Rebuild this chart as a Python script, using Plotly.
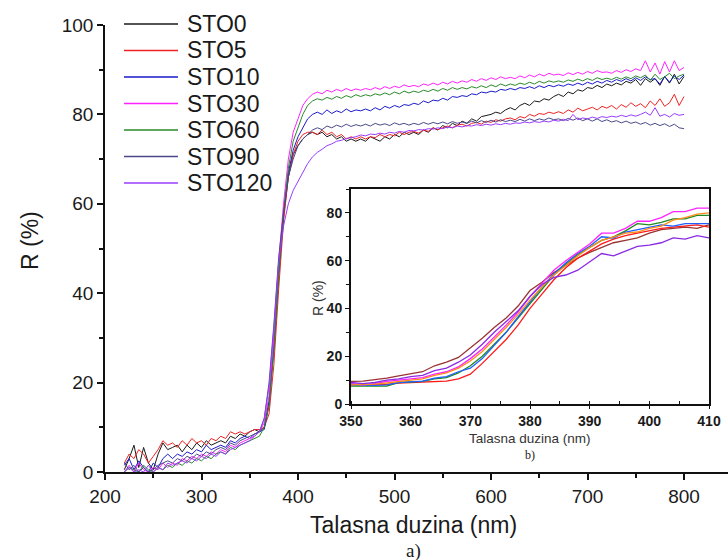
import plotly.graph_objects as go

# Wavelength grid of the full reflectance spectra (nm)
WL = list(range(220, 801, 5))

SERIES = ["STO0", "STO5", "STO10", "STO30", "STO60", "STO90", "STO120"]
COLORS = ["#1a1a1a", "#ee2222", "#1a1acc", "#ff22ff", "#2a8a2a", "#4a4a8a", "#9a3cff"]

STO0 = [0.5, 3, 6, 1, 5.5, 2, 0.5, 4, 6.5, 5,
        5.5, 6, 4.5, 6, 5, 6.5, 5.5, 7, 6, 6.5,
        7, 6.5, 8, 7.5, 8.5, 8, 9, 9.5, 9, 10,
        16, 28, 44, 57, 66, 71, 73, 74.5, 75.5, 76,
        75.5, 76, 75, 75.5, 74.5, 75, 74, 74.5, 74, 74.5,
        74, 75, 74.5, 74, 75, 74.5, 75.5, 75, 76, 75.5,
        76, 75.5, 76.5, 76, 77, 76.5, 77.5, 77, 78, 77.5,
        78.5, 78, 79, 78.5, 79.5, 79.8, 80, 80.5, 80.2, 81,
        81.5, 81, 82, 82.5, 82, 83, 82.8, 83.5, 83.2, 84,
        84.5, 84, 85, 84.6, 85.5, 85.2, 86, 85.8, 86.5, 86,
        86.8, 86.4, 87, 86.6, 87.4, 87, 87.8, 86.5, 88, 87.2,
        88, 86.5, 88.5, 87, 89, 86.8, 88.5]

STO5 = [2, 4, 3, 5, 4, 2, 3.5, 5, 7, 6,
        6.5, 5.5, 7, 6, 7.5, 6.5, 7, 6, 7.5, 7,
        8, 7.5, 9, 8.5, 9, 8.5, 9, 9.5, 9.5, 10,
        13, 24, 41, 56, 66, 71, 74, 75.5, 76, 76,
        75.5, 76.5, 75.5, 76, 75, 75.5, 74.5, 75, 74.5, 75,
        74.5, 75, 74.8, 75.5, 75, 75.5, 75.2, 76, 75.5, 76,
        76.2, 75.8, 76.5, 76.2, 77, 76.6, 77, 77.4, 77, 77.6,
        77.8, 77.4, 78, 78.2, 77.8, 78.5, 78.2, 78.8, 78.5, 79,
        79.2, 78.8, 79.5, 79.2, 80, 79.6, 80.2, 80, 80.5, 80.2,
        80.6, 80.2, 81, 80.5, 81.4, 80.8, 81.2, 81.6, 81, 81.8,
        81.4, 82, 81.2, 82.2, 81.6, 82.6, 81.8, 82.4, 81.5, 83,
        82, 83.5, 81.8, 82.6, 84.5, 82, 84]

STO10 = [1.5, 3, 0.5, 2.5, 1, 0, 2, 1, 3, 4,
         3, 4, 3.5, 4.5, 4, 5, 4.5, 6, 5, 5.5,
         6, 5.5, 7, 6.5, 7.5, 8, 7.5, 8.5, 9, 9.5,
         15, 28, 45, 58, 67, 72, 75, 77, 79, 80,
         80.5, 80, 81, 80.2, 80.8, 80.4, 81.2, 80.6, 81, 80.8,
         81.2, 80.8, 81.5, 81, 81.8, 81.4, 82, 81.6, 82.2, 82,
         82.5, 82.2, 83, 82.6, 83.2, 83, 83.6, 83.2, 84, 83.8,
         84.2, 84, 84.6, 84.4, 85, 84.8, 85.2, 85, 85.6, 85.4,
         85.8, 85.5, 86, 85.8, 86.2, 85.8, 86.4, 86, 86.5, 86.2,
         86.6, 86.3, 86.8, 86.5, 87, 86.6, 87.2, 86.8, 87.4, 87,
         87.6, 87.2, 87.8, 87.4, 88, 87.5, 88.2, 87.6, 88.4, 87.8,
         88, 86.8, 88.5, 87.2, 88.6, 87.8, 88.8]

STO30 = [0, 1.5, 0, 2, 0.5, 0, 1, 0.5, 2, 1,
         2, 1.5, 3, 2.5, 3.5, 3, 4, 3.5, 4.5, 4,
         5, 4.5, 6, 5.5, 6.5, 7, 7.5, 8, 9, 11,
         17, 30, 47, 60, 70, 76, 79, 82, 83.5, 84.5,
         85, 84.6, 85.4, 85, 85.6, 85.2, 85.8, 85.3, 85.7, 85.4,
         85.8, 85.5, 86, 85.6, 86.2, 85.8, 86.3, 86, 86.6, 86.2,
         86.5, 86.2, 86.8, 86.5, 87, 86.6, 87.2, 86.8, 87.4, 87,
         87.5, 87.2, 87.8, 87.4, 88, 87.6, 88.2, 87.8, 88.4, 88,
         88.3, 88, 88.6, 88.2, 88.8, 88.4, 89, 88.6, 89.2, 88.8,
         89, 88.7, 89.3, 88.9, 89.4, 89, 89.6, 89.2, 89.8, 89.4,
         89.5, 89.2, 89.8, 89.4, 90, 89.6, 90.2, 89.8, 92, 89.5,
         91.5, 89, 91.8, 89.5, 92, 89.8, 90.5]

STO60 = [0, 1, 0.5, 0, 1.5, 0.5, 0, 1, 0.5, 1.5,
         1, 2, 1.5, 2.5, 2, 3, 2.5, 3.5, 3, 4,
         4.5, 4, 5.5, 5, 6, 6.5, 7, 7.5, 8, 10,
         15, 27, 44, 58, 68, 74, 77, 80, 82, 83,
         83.5, 83.2, 83.8, 83.4, 84, 83.6, 84.2, 83.8, 84.4, 84,
         84.4, 84.1, 84.6, 84.3, 84.8, 84.4, 85, 84.6, 85.2, 84.8,
         85.2, 84.9, 85.4, 85.1, 85.6, 85.2, 85.8, 85.4, 86, 85.6,
         86, 85.7, 86.2, 85.9, 86.4, 86, 86.6, 86.2, 86.8, 86.4,
         86.8, 86.5, 87, 86.7, 87.2, 86.8, 87.4, 87, 87.5, 87.2,
         87.5, 87.2, 87.7, 87.4, 87.9, 87.5, 88, 87.6, 88.2, 87.8,
         88.1, 87.8, 88.3, 87.9, 88.4, 88, 88.6, 88.2, 88.8, 87.6,
         89, 87.8, 88.4, 89.2, 88, 88.6, 89]

STO90 = [2, 0.5, 1.5, 0, 1, 0, 0.5, 1.5, 2, 2.5,
         2, 3, 2.5, 3.5, 3, 4, 3.5, 4.5, 4, 5,
         5.5, 5, 6.5, 6, 7, 7.5, 8, 8.5, 9, 12,
         20, 33, 48, 58, 66, 70, 73, 74.5, 75.5, 76.5,
         77, 76.6, 77.4, 77, 77.6, 77.2, 77.8, 77.3, 77.7, 77.4,
         77.8, 77.4, 78, 77.6, 77.9, 77.5, 78.1, 77.7, 78, 77.6,
         78, 77.7, 78.2, 77.8, 78.2, 77.9, 78.3, 77.9, 78.4, 78,
         78.3, 78, 78.5, 78.1, 78.6, 78.2, 78.7, 78.3, 78.8, 78.4,
         78.7, 78.4, 78.9, 78.5, 79, 78.6, 79, 78.7, 79.2, 78.8,
         79, 78.6, 79.1, 78.7, 79.2, 78.6, 79, 78.5, 79, 78.4,
         78.8, 78.3, 78.6, 78.1, 78.5, 78, 78.3, 77.8, 78.2, 77.6,
         78, 77.5, 77.9, 77.3, 77.8, 77, 76.8]

STO120 = [0, 1, 0, 0.5, 0, 1.5, 0, 1, 0.5, 2,
          1.5, 2, 2.5, 2, 3, 2.5, 3.5, 3, 4, 3.5,
          4.5, 4, 5, 5.5, 6, 6.5, 7, 8, 9, 12,
          19, 32, 47, 55, 60, 63, 65, 67, 69, 70.5,
          71.5, 72.2, 73, 73.4, 74, 74.2, 74.6, 74.8, 75, 75.4,
          75.2, 75.6, 75.5, 75.8, 75.6, 76, 75.8, 76.2, 76, 76.4,
          76.3, 76.6, 76.5, 76.8, 76.7, 77, 76.8, 77.2, 77, 77.4,
          77.2, 77.5, 77.4, 77.7, 77.5, 77.8, 77.6, 77.9, 77.7, 78,
          77.8, 78.1, 78, 78.3, 78.1, 78.4, 78.2, 78.5, 78.3, 78.7,
          78.5, 78.9, 78.6, 80, 78.8, 79.2, 79, 79.4, 79.1, 79.5,
          79.3, 79.6, 79.4, 79.8, 79.5, 79.9, 79.6, 80, 80.5, 79.8,
          81.5, 79.6, 80, 79.4, 80.2, 79.8, 80]

MAIN = [STO0, STO5, STO10, STO30, STO60, STO90, STO120]

# Absorption-edge detail (350-410 nm)
WL_EDGE = list(range(350, 411, 2))
EDGE_COLORS = ["#993333", "#ff1a1a", "#1f8a1f", "#1f5fff", "#ff22ff", "#ff8c1a", "#8a2be2"]
EDGE_A = [9.5, 9.6, 10.2, 10.8, 11.8, 12.8, 13.5, 16, 17.5, 19.5, 23.5, 27.5, 32, 36, 41, 47.5,
          51, 55, 58, 61, 63.5, 65.5, 67.5, 68.5, 69.5, 71.5, 73, 73.5, 74, 73.5, 75]
EDGE_B = [8, 8, 8, 8.2, 8.8, 9, 9, 9.2, 9.6, 10.5, 12.5, 17, 22, 27, 33, 40,
          46, 52, 57, 61, 64, 67, 69, 70.5, 71.5, 72.5, 73.5, 74, 74.5, 75, 74]
EDGE_C = [7.5, 7.5, 7.5, 7.5, 9, 9.2, 9.5, 10.5, 11, 13, 16, 20, 25, 30, 36, 42,
          48, 54, 58.5, 62.5, 65.5, 68.5, 70, 72.5, 75.5, 75, 76, 77.5, 77.5, 79, 79]
EDGE_D = [8, 7.8, 7.8, 8, 9, 9.3, 9.6, 10.8, 11.5, 13.5, 15, 19, 24.5, 30, 36.5, 43,
          49, 54.5, 59, 63, 66, 70, 69.5, 72, 73, 74, 75, 74.5, 75.5, 75.5, 75.5]
EDGE_E = [8.5, 8, 8.5, 9.5, 10, 10.5, 11, 12.5, 13.5, 15.5, 19, 23, 28, 33, 38.5, 45,
          50.5, 56, 60, 63.5, 67, 71.5, 71.5, 73.5, 76.5, 76.5, 78, 80.5, 80.5, 82, 82]
EDGE_F = [8, 8, 8.3, 8.8, 9.5, 10, 10.5, 12, 13, 15, 18, 22, 27, 32, 37.5, 43.5,
          49, 54, 58, 62, 65.5, 68.5, 70, 71.5, 72, 73.5, 74.5, 77, 78, 79.5, 80]
EDGE_G = [9, 8.5, 9, 10, 10.5, 11.5, 12, 14, 15, 17.5, 20.5, 25, 30, 34.5, 39, 45,
          50, 53, 54, 56, 59.5, 63, 62, 64, 66, 66.5, 67.5, 69.5, 69, 70.5, 69.5]
EDGE = [EDGE_A, EDGE_B, EDGE_C, EDGE_D, EDGE_E, EDGE_F, EDGE_G]

for s in MAIN:
    assert len(s) == len(WL)
for s in EDGE:
    assert len(s) == len(WL_EDGE)

FONT = "Liberation Sans, Arial, sans-serif"
SERIF = "Liberation Serif, Times New Roman, serif"

W, H = 728, 560
L, R, T, B = 105, 0, 25, 88
PW, PH = W - L - R, H - T - B


def px(x):
    # pixel column -> paper x
    return (x - L) / PW


def py(y):
    # pixel row -> paper y
    return (H - B - y) / PH


fig = go.Figure()

for name, color, vals in zip(SERIES, COLORS, MAIN):
    fig.add_trace(go.Scatter(x=WL, y=vals, mode="lines", name=name,
                             line=dict(color=color, width=1),
                             xaxis="x", yaxis="y"))

for color, vals in zip(EDGE_COLORS, EDGE):
    fig.add_trace(go.Scatter(x=WL_EDGE, y=vals, mode="lines", showlegend=False,
                             line=dict(color=color, width=1.3),
                             xaxis="x2", yaxis="y2"))

fig.update_layout(
    width=W, height=H, autosize=False,
    margin=dict(l=L, r=R, t=T, b=B, autoexpand=False),
    paper_bgcolor="white", plot_bgcolor="white",
    font=dict(family=FONT, color="#1a1a1a"),
    showlegend=False,
    xaxis=dict(domain=[0, 1], range=[200, 845.6], showline=True, linecolor="#111",
               linewidth=1.5, ticks="outside", ticklen=6, tickwidth=1.5,
               tickcolor="#111", dtick=100, tick0=200, showgrid=False, zeroline=False,
               tickfont=dict(size=19, family=FONT, color="#1a1a1a"),
               minor=dict(dtick=50, ticks="outside", ticklen=4, tickcolor="#111")),
    yaxis=dict(domain=[0, 1], range=[0, 100], showline=True, linecolor="#111",
               linewidth=1.5, ticks="outside", ticklen=6, tickwidth=1.5,
               tickcolor="#111", dtick=20, showgrid=False, zeroline=False,
               tickfont=dict(size=19, family=FONT, color="#1a1a1a"),
               minor=dict(dtick=10, ticks="outside", ticklen=4, tickcolor="#111")),
    xaxis2=dict(domain=[px(351), px(709)], anchor="y2", range=[350, 410],
                showline=True, mirror=True, linecolor="#111", linewidth=2,
                ticks="outside", ticklen=3, tickcolor="#111", dtick=10,
                showgrid=False, zeroline=False,
                tickfont=dict(size=14, family=FONT, color="#1a1a1a", weight="bold"),
                minor=dict(dtick=5, ticks="inside", ticklen=3, tickcolor="#111")),
    yaxis2=dict(domain=[py(404), py(189)], anchor="x2", range=[0, 90],
                showline=True, mirror=True, linecolor="#111", linewidth=2,
                ticks="outside", ticklen=4, tickcolor="#111", dtick=20,
                showgrid=False, zeroline=False,
                tickfont=dict(size=14, family=FONT, color="#1a1a1a", weight="bold"),
                minor=dict(dtick=10, ticks="outside", ticklen=3, tickcolor="#111")),
)

# Legend: a short line sample next to each series name
LEG_ROW0, LEG_STEP = 24, 26.5
for i, (name, color) in enumerate(zip(SERIES, COLORS)):
    yy = py(LEG_ROW0 + i * LEG_STEP)
    fig.add_shape(type="line", xref="paper", yref="paper",
                  x0=px(124), x1=px(178), y0=yy, y1=yy,
                  line=dict(color=color, width=1.5))
    fig.add_annotation(xref="paper", yref="paper", x=px(185), y=yy,
                       text=name, showarrow=False, xanchor="left", yanchor="middle",
                       font=dict(size=23, family=FONT, color="#1a1a1a"))

annotations = [
    dict(text="Talasna duzina (nm)", x=px(413), y=py(525), font=dict(size=23, family=FONT)),
    dict(text="a)", x=px(413), y=py(551), font=dict(size=19, family=SERIF)),
    dict(text="R (%)", x=px(30), y=py(241), textangle=-90, font=dict(size=23, family=FONT)),
    dict(text="Talasna duzina (nm)", x=px(530), y=py(438), font=dict(size=13.5, family=FONT, color="#333")),
    dict(text="b)", x=px(530), y=py(455), font=dict(size=12, family=SERIF)),
    dict(text="R (%)", x=px(318), y=py(298), textangle=-90, font=dict(size=14, family=FONT, color="#333")),
]
for a in annotations:
    fig.add_annotation(xref="paper", yref="paper", showarrow=False,
                       xanchor="center", yanchor="middle", **a)

fig.write_html("out.html", config={"responsive": False})
